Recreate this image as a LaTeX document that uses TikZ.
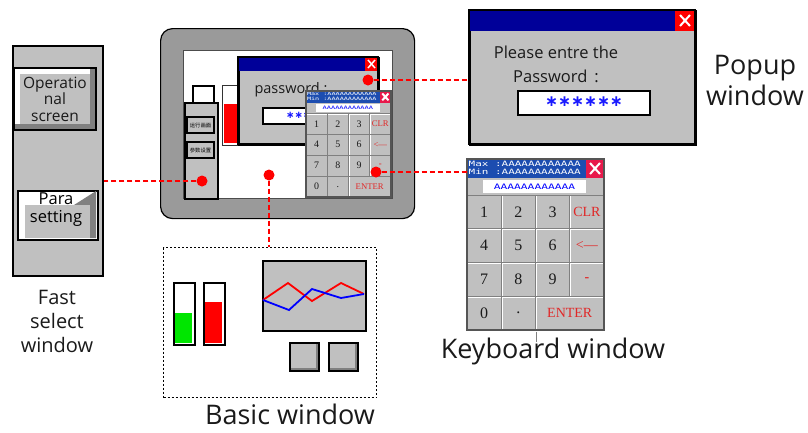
\documentclass[tikz,border=0pt]{standalone}
\usepackage{fontspec}
\setmainfont{Open Sans}
\newfontfamily\keyfont{Liberation Serif}
\newfontfamily\kbmono[FakeStretch=1.5]{DejaVu Sans Mono}
\newfontfamily\symfont{DejaVu Sans}
\newfontfamily\cjkfont{Noto Sans CJK SC}
\usepackage{xcolor}
\definecolor{panelGray}{HTML}{C0C0C0}
\definecolor{bodyGray}{HTML}{9A9A9A}
\definecolor{bevelDark}{HTML}{808080}
\definecolor{kbEdge}{HTML}{555555}
\definecolor{titleBlue}{HTML}{000099}
\definecolor{kbBlue}{HTML}{1C4DB0}
\definecolor{kbClose}{HTML}{E8194B}
\definecolor{closeRed}{HTML}{FF0000}
\definecolor{keyRed}{HTML}{E02828}
\definecolor{starBlue}{HTML}{1A1AFF}
\definecolor{linkRed}{HTML}{FF0000}
\definecolor{barGreen}{HTML}{00E600}
\definecolor{darkText}{HTML}{1A1A1A}
\usepackage{tikz}
\usetikzlibrary{
    positioning,
    calc
}
\tikzset{
    % Window panels - gray with black frame
    win panel/.style={
        draw=black,
        line width=1.5pt,
        fill=panelGray,
        inner sep=0pt,
        anchor=north west,
    },
    % Captions under / beside the windows
    caption/.style={
        font=\fontsize{27}{31}\selectfont,
        text=darkText,
        align=center,
        inner sep=0pt,
    },
    % Raised button with bevel
    raised btn/.style={
        draw=black,
        line width=1.5pt,
        fill=panelGray,
        inner sep=0pt,
        align=center,
        text=darkText,
        path picture={
            \draw[white, line width=12pt]
                (path picture bounding box.south west) --
                (path picture bounding box.north west) --
                (path picture bounding box.north east);
            \draw[bevelDark, line width=12pt]
                (path picture bounding box.north east) --
                (path picture bounding box.south east) --
                (path picture bounding box.south west);
        },
    },
    % Small square button in the basic window
    square btn/.style={
        draw=black,
        line width=1.5pt,
        fill=panelGray,
        minimum width=29pt,
        minimum height=28pt,
        inner sep=0pt,
        anchor=north west,
        path picture={
            \draw[bevelDark, line width=6pt]
                (path picture bounding box.north east) --
                (path picture bounding box.south east) --
                (path picture bounding box.south west);
        },
    },
    % Bar gauge frame
    gauge/.style={
        draw=black,
        line width=1.5pt,
        fill=white,
        minimum width=21pt,
        minimum height=62pt,
        inner sep=0pt,
        anchor=north west,
    },
    % Keys of the keypad
    key/.style={
        rectangle,
        draw=bevelDark,
        line width=1pt,
        fill=panelGray,
        minimum width=34.25pt,
        minimum height=33.75pt,
        inner sep=0pt,
        text=darkText,
        font=\keyfont\fontsize{16}{16}\selectfont,
        path picture={
            \draw[white, line width=2.5pt]
                (path picture bounding box.south west) --
                (path picture bounding box.north west) --
                (path picture bounding box.north east);
        },
    },
    key red/.style={
        key,
        text=keyRed,
        font=\keyfont\fontsize{14}{14}\selectfont,
    },
    % Keypad title texts
    kb title/.style={
        text=white,
        font=\kbmono\fontsize{7.3}{7.3}\selectfont,
        inner sep=0pt,
    },
    kb input/.style={
        fill=white,
        minimum width=103pt,
        minimum height=13pt,
        inner sep=0pt,
        text=blue,
        font=\kbmono\fontsize{7.5}{7.5}\selectfont,
    },
    % Hot spot dot and dotted red link
    hot dot/.style={
        circle,
        fill=linkRed,
        minimum size=11pt,
        inner sep=0pt,
    },
    link/.style={
        draw=linkRed,
        line width=2.5pt,
        dash pattern=on 5pt off 3pt,
    },
    % Keypad drawn in local coordinates (0,0)-(137,171)
    pics/keypad/.style={code={
        \node (-frame) [win panel, draw=none, minimum width=137pt, minimum height=171pt] at (0,0) {};
        \fill[kbBlue] (0,0) rectangle (119,19);
        \fill[kbClose] (119,0) rectangle (137,19);
        \draw[white, line width=2pt] (123,4) -- (133,15) (123,15) -- (133,4);
        \node (-max) [kb title, anchor=west] at (1.5,5.2) {Max :AAAAAAAAAAAA};
        \node (-min) [kb title, anchor=west] at (1.5,12.8) {Min :AAAAAAAAAAAA};
        \node (-input) [kb input] at (67.5,27.5) {AAAAAAAAAAAA};
        \foreach \lbl [count=\i from 0] in {1,2,3,4,5,6,7,8,9} {
            \pgfmathsetmacro\kx{17.125+34.25*mod(\i,3)}
            \pgfmathsetmacro\ky{52.875+33.75*floor(\i/3)}
            \node (-k\lbl) [key] at (\kx,\ky) {\lbl};
        }
        \node (-clr) [key red] at (119.875,52.875) {CLR};
        \node (-back) [key red] at (119.875,86.625) {<—};
        \node (-minus) [key red, font=\keyfont\bfseries\fontsize{14}{14}\selectfont] at (119.875,120.375) {-};
        \node (-k0) [key] at (17.125,154.125) {0};
        \node (-point) [key] at (51.375,154.125) {.};
        \node (-enter) [key red, minimum width=68.5pt] at (102.75,154.125) {ENTER};
        \draw[kbEdge, line width=1.5pt] (0,0) rectangle (137,171);
    }},
}

\begin{document}
\begin{tikzpicture}[x=1pt, y=-1pt, font=\fontsize{16.5}{17}\selectfont]
    \useasboundingbox (0,0) rectangle (808,432);

    % Fast select window
    \node (fastsel) [win panel, minimum width=90pt, minimum height=230pt] at (12,45) {};
    \node (opbtn) [raised btn, minimum width=82pt, minimum height=62pt,
        font=\fontsize{15.5}{16.5}\selectfont] at (55,99) {Operatio\\nal\\screen};
    \node (parabtn) [draw=black, line width=1.5pt, fill=white, anchor=north west,
        minimum width=80pt, minimum height=49pt, inner sep=0pt] at (17,190) {};
    \fill[bevelDark] (74,205) -- (96,191) -- (96,238) -- (90,238) -- (90,205) -- cycle;
    \fill[panelGray] (25,205) rectangle (90,238);
    \node (paratop) at (56,199) {Para};
    \node (parabot) at (56,218) {setting};
    \node (fastcap) [caption, font=\fontsize{20}{24}\selectfont] at (57,321) {Fast\\select\\window};

    % HMI device
    \node (hmi) [draw=black, line width=1.2pt, fill=bodyGray, rounded corners=12pt, anchor=north west,
        minimum width=254pt, minimum height=190pt, inner sep=0pt] at (160,28) {};
    \node (screen) [draw=black!70, line width=0.8pt, fill=white, anchor=north west,
        minimum width=209pt, minimum height=148pt, inner sep=0pt] at (183,50) {};
    % small fast select panel
    \node (minitop) [draw=black, line width=1.5pt, fill=white, anchor=north west,
        minimum width=21pt, minimum height=17pt, inner sep=0pt] at (192,85) {};
    \node (minifast) [draw=black, line width=1.8pt, fill=panelGray, anchor=north west,
        minimum width=33pt, minimum height=96pt, inner sep=0pt] at (184,102) {};
    \node (minirun) [draw=black, line width=1.2pt, fill=panelGray, minimum width=27pt, minimum height=16pt,
        inner sep=0pt, font=\cjkfont\fontsize{5.3}{5.3}\selectfont] at (200.5,125) {运行画面};
    \node (miniset) [draw=black, line width=1.2pt, fill=panelGray, minimum width=27pt, minimum height=16pt,
        inner sep=0pt, font=\cjkfont\fontsize{5.3}{5.3}\selectfont] at (200.5,150) {参数设置};
    % small bar
    \node (minibar) [draw=black!80, line width=1.2pt, fill=white, anchor=north west,
        minimum width=20pt, minimum height=60pt, inner sep=0pt] at (222,85) {};
    \fill[red] (224,104) rectangle (240,143);
    % small popup
    \node (minipop) [win panel, minimum width=140pt, minimum height=87pt] at (238,57) {};
    \fill[titleBlue] (238,57) rectangle (365,71);
    \fill[closeRed] (365,57) rectangle (378,71);
    \draw[white, line width=1.5pt] (368,60) -- (375,68) (368,68) -- (375,60);
    \draw[black, line width=1.5pt] (238,57) rectangle (378,144);
    \node (minipass) [anchor=west, text=darkText, font=\fontsize{14.5}{15}\selectfont] at (251,90) {password :};
    \node (miniinput) [draw=black, line width=1.5pt, fill=white, anchor=north west,
        minimum width=73pt, minimum height=16pt, inner sep=0pt] at (262,107) {};
    \node (ministars) [anchor=west, inner sep=0pt, text=starBlue, font=\symfont\bfseries\fontsize{10}{10}\selectfont] at (286,115) {∗∗∗∗∗∗};
    % small keypad
    \pic (kbdmini) [scale=0.62, transform shape] at (306,91) {keypad};

    % Basic window
    \node (basic) [draw=black, line width=1.2pt, dash pattern=on 2pt off 2pt, anchor=north west,
        minimum width=213pt, minimum height=150pt, inner sep=0pt] at (163,247) {};
    \node (gaugegreen) [gauge] at (173,282) {};
    \fill[barGreen] (175,313) rectangle (192,343);
    \node (gaugered) [gauge] at (203,282) {};
    \fill[red] (205,302) rectangle (222,343);
    \node (trend) [draw=black, line width=1.5pt, fill=panelGray, anchor=north west,
        minimum width=103pt, minimum height=70pt, inner sep=0pt] at (262,260) {};
    \draw[red, line width=1.8pt] (263,300) -- (288,283) -- (312,301) -- (341,283) -- (364,294);
    \draw[blue, line width=1.8pt] (263,300) -- (289,310) -- (312,289) -- (341,298) -- (364,294);
    \node (btnleft) [square btn] at (289,342) {};
    \node (btnright) [square btn] at (328,342) {};
    \node (basiccap) [caption] at (290,414) {Basic window};

    % Popup window
    \node (popup) [win panel, minimum width=226pt, minimum height=134pt] at (469,10) {};
    \fill[titleBlue] (469,10) rectangle (675,31);
    \fill[closeRed] (675,10) rectangle (695,31);
    \draw[white, line width=2pt] (680,15) -- (690,26) (680,26) -- (690,15);
    \draw[black, line width=1.5pt] (469,10) rectangle (695,144);
    \node (popline1) [text=darkText] at (556,52) {Please entre the};
    \node (popline2) [text=darkText] at (556,76) {Password\hspace{7pt}:};
    \node (popinput) [draw=black, line width=1.5pt, fill=white, anchor=north west,
        minimum width=132pt, minimum height=24pt, inner sep=0pt] at (517,90) {};
    \node (popstars) [text=starBlue, inner sep=0pt, font=\symfont\bfseries\fontsize{15.5}{15.5}\selectfont] at (584,102) {∗∗∗∗∗∗};
    \node (popcap) [caption] at (755,80) {Popup\\window};

    % Keyboard window
    \pic (kbd) at (467,159) {keypad};
    \draw[bevelDark, line width=0.8pt] (kbd-frame.south) -- ++(0,10);
    \node (kbdcap) [caption] at (553,351) {Keyboard window};

    % Hot spots and links
    \node (dotfast) [hot dot] at (202,181) {};
    \node (dotpop) [hot dot] at (368,80) {};
    \node (dotkey) [hot dot] at (376,172) {};
    \node (dotbasic) [hot dot] at (269,175) {};

    \draw [link] (dotfast) -- (dotfast -| fastsel.east);
    \draw [link] (dotpop) -- (dotpop -| popup.west);
    \draw [link] (dotkey) -- (dotkey -| kbd-frame.west);
    \draw [link] (dotbasic) -- (dotbasic |- basic.north);
\end{tikzpicture}
\end{document}
